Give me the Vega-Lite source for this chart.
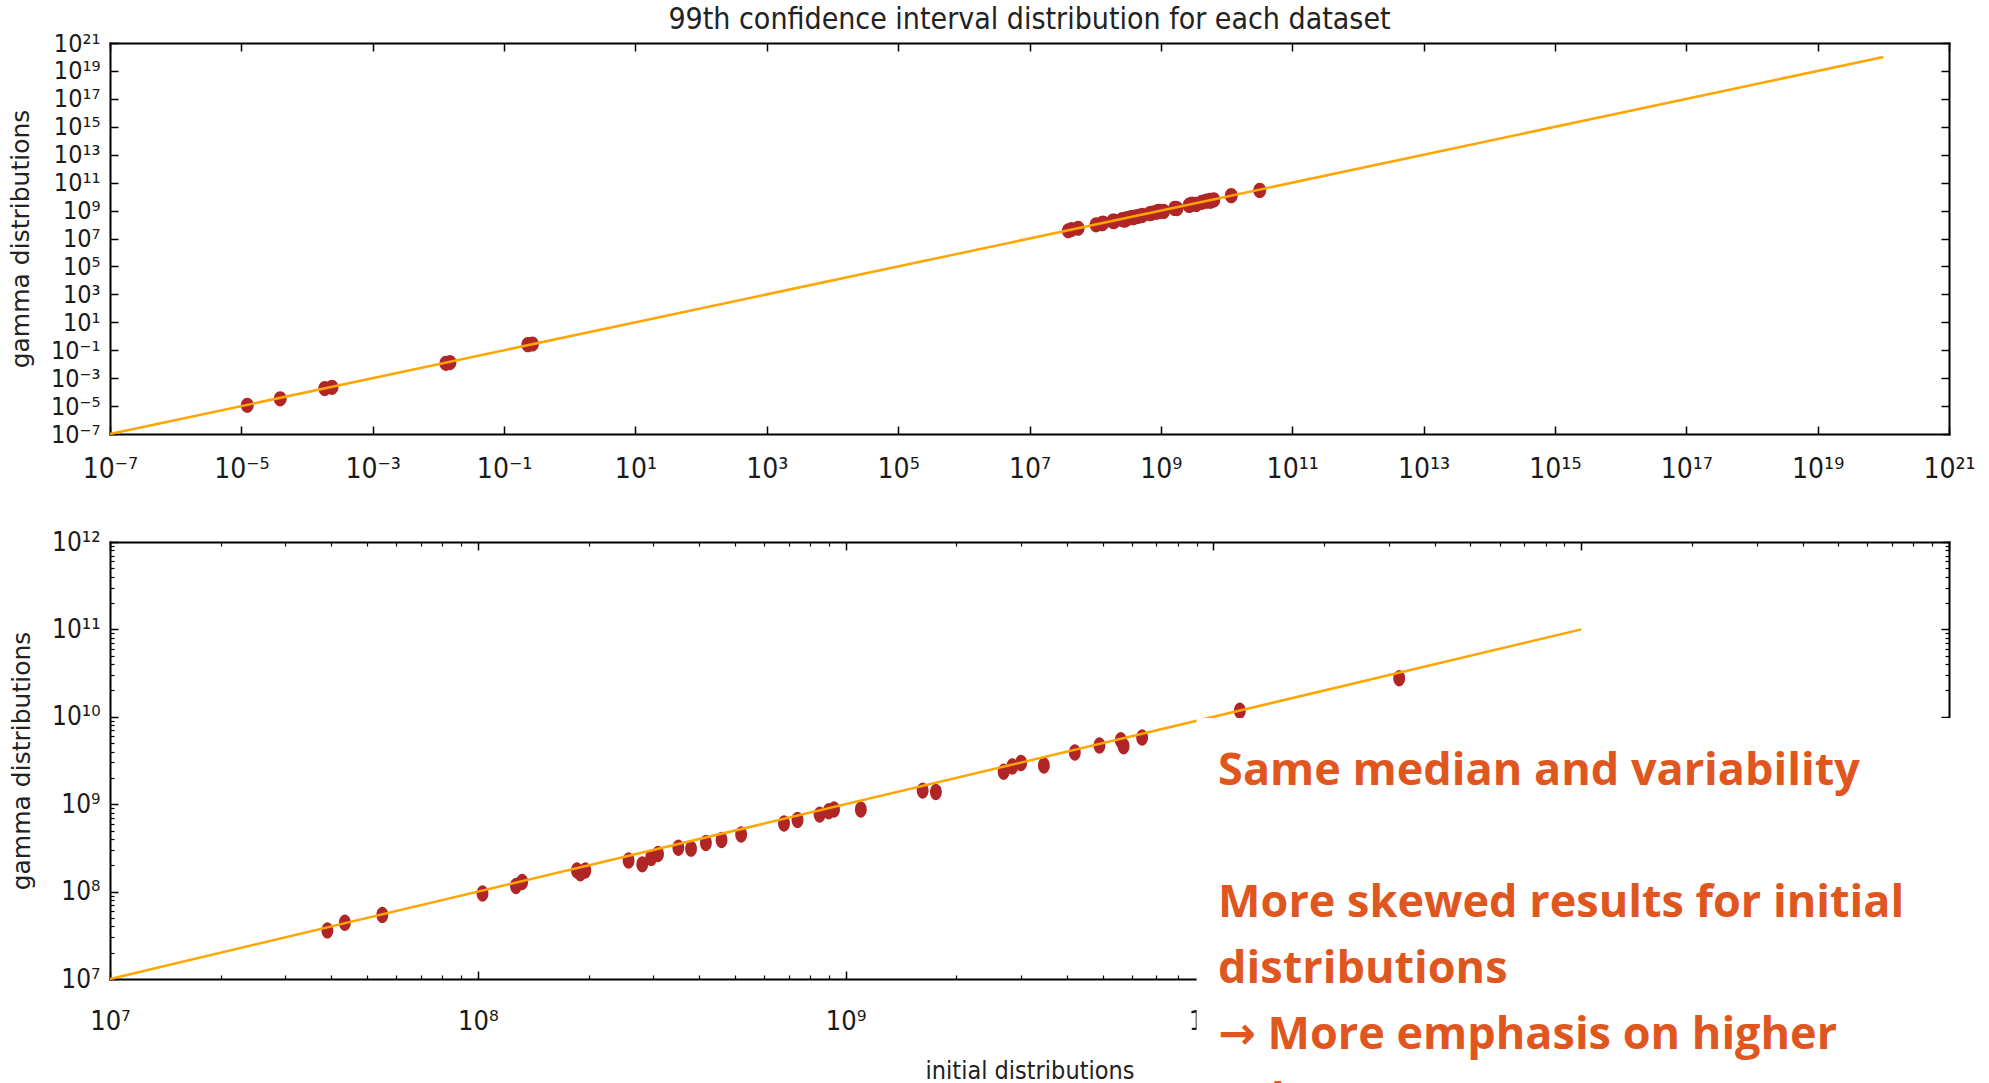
{
  "$schema": "https://vega.github.io/schema/vega-lite/v6.json",
  "background": "white",
  "padding": {"left": 8, "top": 5, "right": 0, "bottom": 0},
  "bounds": "flush",
  "spacing": 108,
  "title": {
    "text": "99th confidence interval distribution for each dataset",
    "font": "DejaVu Sans Condensed, DejaVu Sans, sans-serif",
    "fontSize": 30,
    "fontWeight": "normal",
    "color": "#222222",
    "anchor": "middle",
    "frame": "group",
    "baseline": "alphabetic",
    "offset": -28
  },
  "config": {
    "view": {"stroke": null},
    "axis": {
      "grid": false,
      "domain": false,
      "tickColor": "black",
      "tickWidth": 1.5,
      "labelColor": "#1a1a1a",
      "labelFont": "DejaVu Sans Condensed, DejaVu Sans, sans-serif",
      "labelFlush": false,
      "labelOverlap": false,
      "labelBound": false,
      "titleColor": "#222222",
      "titleFontWeight": "normal"
    }
  },
  "datasets": {
    "cluster": [
      {"initial": 3.9e7, "gamma": 3.6e7},
      {"initial": 4.35e7, "gamma": 4.4e7},
      {"initial": 5.5e7, "gamma": 5.4e7},
      {"initial": 1.03e8, "gamma": 9.5e7},
      {"initial": 1.27e8, "gamma": 1.16e8},
      {"initial": 1.32e8, "gamma": 1.29e8},
      {"initial": 1.86e8, "gamma": 1.74e8},
      {"initial": 1.96e8, "gamma": 1.74e8},
      {"initial": 1.9e8, "gamma": 1.62e8},
      {"initial": 2.57e8, "gamma": 2.27e8},
      {"initial": 2.8e8, "gamma": 2.05e8},
      {"initial": 2.96e8, "gamma": 2.43e8},
      {"initial": 3.09e8, "gamma": 2.69e8},
      {"initial": 3.51e8, "gamma": 3.17e8},
      {"initial": 3.8e8, "gamma": 3.1e8},
      {"initial": 4.17e8, "gamma": 3.6e8},
      {"initial": 4.6e8, "gamma": 3.9e8},
      {"initial": 5.2e8, "gamma": 4.5e8},
      {"initial": 6.8e8, "gamma": 6.0e8},
      {"initial": 7.4e8, "gamma": 6.6e8},
      {"initial": 8.5e8, "gamma": 7.6e8},
      {"initial": 9.0e8, "gamma": 8.3e8},
      {"initial": 9.3e8, "gamma": 8.7e8},
      {"initial": 1.1e9, "gamma": 8.7e8},
      {"initial": 1.62e9, "gamma": 1.43e9},
      {"initial": 1.76e9, "gamma": 1.38e9},
      {"initial": 2.69e9, "gamma": 2.35e9},
      {"initial": 2.84e9, "gamma": 2.7e9},
      {"initial": 3.0e9, "gamma": 2.96e9},
      {"initial": 3.46e9, "gamma": 2.77e9},
      {"initial": 4.2e9, "gamma": 3.9e9},
      {"initial": 4.9e9, "gamma": 4.7e9},
      {"initial": 5.6e9, "gamma": 5.4e9},
      {"initial": 5.7e9, "gamma": 4.6e9},
      {"initial": 6.4e9, "gamma": 5.8e9},
      {"initial": 1.18e10, "gamma": 1.17e10},
      {"initial": 3.2e10, "gamma": 2.76e10}
    ],
    "small": [
      {"initial": 1.23e-5, "gamma": 1.15e-5},
      {"initial": 3.9e-5, "gamma": 3.3e-5},
      {"initial": 1.86e-4, "gamma": 1.8e-4},
      {"initial": 2.4e-4, "gamma": 2.2e-4},
      {"initial": 1.3e-2, "gamma": 1.15e-2},
      {"initial": 1.5e-2, "gamma": 1.3e-2},
      {"initial": 0.23, "gamma": 0.25},
      {"initial": 0.27, "gamma": 0.28}
    ],
    "line_top": [
      {"initial": 1e-7, "gamma": 1e-7},
      {"initial": 1e20, "gamma": 1e20}
    ],
    "line_bottom": [
      {"initial": 1e7, "gamma": 1e7},
      {"initial": 1e11, "gamma": 1e11}
    ],
    "box": [
      {"x0": 9.0e9, "x1": 1.26e12, "y0": 9.7e9, "y1": 6.8e5}
    ],
    "note": [
      {"initial": 1.03e10, "gamma": 1.66e9, "note": "Same median and variability"},
      {"initial": 1.03e10, "gamma": 5.12e7, "note": "More skewed results for initial\ndistributions\n→ More emphasis on higher\nvalues"}
    ]
  },
  "vconcat": [
    {
      "width": 1839,
      "height": 391,
      "layer": [
        {
          "data": {"name": "cluster"},
          "mark": {"type": "point", "filled": true, "shape": "M0,-1 A0.85,1 0 1,1 0,1 A0.85,1 0 1,1 0,-1 Z", "size": 230, "color": "#b02525", "opacity": 1},
          "encoding": {
            "x": {"field": "initial", "type": "quantitative",
              "scale": {"type": "log", "domain": [1e-7, 1e21], "nice": false},
              "axis": {"orient": "bottom", "title": null, "values": [1e-7, 1e-5, 1e-3, 0.1, 10, 1000, 1e5, 1e7, 1e9, 1e11, 1e13, 1e15, 1e17, 1e19, 1e21],
                "domain": true, "domainColor": "black", "domainWidth": 2, "domainCap": "square",
                "tickSize": -8, "labelPadding": 29, "labelFontSize": 28,
                "labelExpr": "'10' + replace(replace(replace(replace(replace(replace(replace(replace(replace(replace(replace('' + round(log(datum.value) / LN10), '-', '⁻'), regexp('0', 'g'), '⁰'), regexp('1', 'g'), '¹'), regexp('2', 'g'), '²'), regexp('3', 'g'), '³'), regexp('4', 'g'), '⁴'), regexp('5', 'g'), '⁵'), regexp('6', 'g'), '⁶'), regexp('7', 'g'), '⁷'), regexp('8', 'g'), '⁸'), regexp('9', 'g'), '⁹')"}},
            "y": {"field": "gamma", "type": "quantitative",
              "scale": {"type": "log", "domain": [1e-7, 1e21], "nice": false},
              "axis": {"orient": "left", "title": "gamma distributions", "titleFont": "DejaVu Sans", "titleFontSize": 25, "titlePadding": 17,
                "values": [1e-7, 1e-5, 1e-3, 0.1, 10, 1000, 1e5, 1e7, 1e9, 1e11, 1e13, 1e15, 1e17, 1e19, 1e21],
                "domain": true, "domainColor": "black", "domainWidth": 2, "domainCap": "square",
                "tickSize": -8, "labelPadding": 18, "labelFontSize": 25,
                "labelExpr": "'10' + replace(replace(replace(replace(replace(replace(replace(replace(replace(replace(replace('' + round(log(datum.value) / LN10), '-', '⁻'), regexp('0', 'g'), '⁰'), regexp('1', 'g'), '¹'), regexp('2', 'g'), '²'), regexp('3', 'g'), '³'), regexp('4', 'g'), '⁴'), regexp('5', 'g'), '⁵'), regexp('6', 'g'), '⁶'), regexp('7', 'g'), '⁷'), regexp('8', 'g'), '⁸'), regexp('9', 'g'), '⁹')"}}
          }
        },
        {
          "data": {"name": "small"},
          "mark": {"type": "point", "filled": true, "shape": "M0,-1 A0.85,1 0 1,1 0,1 A0.85,1 0 1,1 0,-1 Z", "size": 230, "color": "#b02525", "opacity": 1},
          "encoding": {
            "x": {"field": "initial", "type": "quantitative", "axis": null},
            "y": {"field": "gamma", "type": "quantitative", "axis": null}
          }
        },
        {
          "data": {"name": "line_top"},
          "mark": {"type": "line", "color": "#FFA500", "strokeWidth": 2.5},
          "encoding": {
            "x": {"field": "initial", "type": "quantitative",
              "axis": {"orient": "top", "title": null, "labels": false, "values": [1e-7, 1e-5, 1e-3, 0.1, 10, 1000, 1e5, 1e7, 1e9, 1e11, 1e13, 1e15, 1e17, 1e19, 1e21],
                "domain": true, "domainColor": "black", "domainWidth": 2, "domainCap": "square", "tickSize": -8}},
            "y": {"field": "gamma", "type": "quantitative",
              "axis": {"orient": "right", "title": null, "labels": false, "values": [1e-7, 1e-5, 1e-3, 0.1, 10, 1000, 1e5, 1e7, 1e9, 1e11, 1e13, 1e15, 1e17, 1e19, 1e21],
                "domain": true, "domainColor": "black", "domainWidth": 2, "domainCap": "square", "tickSize": -8}}
          }
        }
      ],
      "resolve": {"axis": {"x": "independent", "y": "independent"}}
    },
    {
      "width": 1839,
      "height": 437,
      "layer": [
        {
          "data": {"name": "cluster"},
          "mark": {"type": "point", "filled": true, "shape": "M0,-1 A0.72,1 0 1,1 0,1 A0.72,1 0 1,1 0,-1 Z", "size": 270, "color": "#b02525", "opacity": 1},
          "encoding": {
            "x": {"field": "initial", "type": "quantitative",
              "scale": {"type": "log", "domain": [1e7, 1e12], "nice": false},
              "axis": {"orient": "bottom", "title": "initial distributions", "titleFont": "DejaVu Sans Condensed, DejaVu Sans, sans-serif", "titleFontSize": 25, "titlePadding": 24,
                "values": [1e7, 1e8, 1e9, 1e10, 1e11, 1e12],
                "domain": true, "domainColor": "black", "domainWidth": 2, "domainCap": "square",
                "tickSize": -8, "labelPadding": 37, "labelFontSize": 27,
                "labelExpr": "'10' + replace(replace(replace(replace(replace(replace(replace(replace(replace(replace(replace('' + round(log(datum.value) / LN10), '-', '⁻'), regexp('0', 'g'), '⁰'), regexp('1', 'g'), '¹'), regexp('2', 'g'), '²'), regexp('3', 'g'), '³'), regexp('4', 'g'), '⁴'), regexp('5', 'g'), '⁵'), regexp('6', 'g'), '⁶'), regexp('7', 'g'), '⁷'), regexp('8', 'g'), '⁸'), regexp('9', 'g'), '⁹')"}},
            "y": {"field": "gamma", "type": "quantitative",
              "scale": {"type": "log", "domain": [1e7, 1e12], "nice": false},
              "axis": {"orient": "left", "title": "gamma distributions", "titleFont": "DejaVu Sans", "titleFontSize": 25, "titlePadding": 17,
                "values": [1e7, 1e8, 1e9, 1e10, 1e11, 1e12],
                "domain": true, "domainColor": "black", "domainWidth": 2, "domainCap": "square",
                "tickSize": -8, "labelPadding": 18, "labelFontSize": 26,
                "labelExpr": "'10' + replace(replace(replace(replace(replace(replace(replace(replace(replace(replace(replace('' + round(log(datum.value) / LN10), '-', '⁻'), regexp('0', 'g'), '⁰'), regexp('1', 'g'), '¹'), regexp('2', 'g'), '²'), regexp('3', 'g'), '³'), regexp('4', 'g'), '⁴'), regexp('5', 'g'), '⁵'), regexp('6', 'g'), '⁶'), regexp('7', 'g'), '⁷'), regexp('8', 'g'), '⁸'), regexp('9', 'g'), '⁹')"}}
          }
        },
        {
          "data": {"name": "line_bottom"},
          "mark": {"type": "line", "color": "#FFA500", "strokeWidth": 2.5},
          "encoding": {
            "x": {"field": "initial", "type": "quantitative",
              "axis": {"orient": "bottom", "title": null, "labels": false, "tickSize": -4, "tickWidth": 1.2,
                "values": [2e7, 3e7, 4e7, 5e7, 6e7, 7e7, 8e7, 9e7, 2e8, 3e8, 4e8, 5e8, 6e8, 7e8, 8e8, 9e8, 2e9, 3e9, 4e9, 5e9, 6e9, 7e9, 8e9, 9e9, 2e10, 3e10, 4e10, 5e10, 6e10, 7e10, 8e10, 9e10, 2e11, 3e11, 4e11, 5e11, 6e11, 7e11, 8e11, 9e11]}},
            "y": {"field": "gamma", "type": "quantitative",
              "axis": {"orient": "left", "title": null, "labels": false, "tickSize": -4, "tickWidth": 1.2,
                "values": [2e7, 3e7, 4e7, 5e7, 6e7, 7e7, 8e7, 9e7, 2e8, 3e8, 4e8, 5e8, 6e8, 7e8, 8e8, 9e8, 2e9, 3e9, 4e9, 5e9, 6e9, 7e9, 8e9, 9e9, 2e10, 3e10, 4e10, 5e10, 6e10, 7e10, 8e10, 9e10, 2e11, 3e11, 4e11, 5e11, 6e11, 7e11, 8e11, 9e11]}}
          }
        },
        {
          "data": {"name": "box"},
          "mark": {"type": "rect", "color": "white", "clip": false},
          "encoding": {
            "x": {"field": "x0", "type": "quantitative",
              "axis": {"orient": "top", "title": null, "labels": false, "values": [1e7, 1e8, 1e9, 1e10, 1e11, 1e12],
                "domain": true, "domainColor": "black", "domainWidth": 2, "domainCap": "square", "tickSize": -8}},
            "x2": {"field": "x1"},
            "y": {"field": "y0", "type": "quantitative",
              "axis": {"orient": "right", "title": null, "labels": false, "values": [1e7, 1e8, 1e9, 1e10, 1e11, 1e12],
                "domain": true, "domainColor": "black", "domainWidth": 2, "domainCap": "square", "tickSize": -8}},
            "y2": {"field": "y1"}
          }
        },
        {
          "data": {"name": "note"},
          "mark": {"type": "text", "align": "left", "baseline": "alphabetic", "font": "Open Sans, DejaVu Sans, sans-serif", "fontWeight": "bold", "fontSize": 45, "color": "#E0561F", "lineBreak": "\n", "lineHeight": 66, "clip": false},
          "encoding": {
            "x": {"field": "initial", "type": "quantitative",
              "axis": {"orient": "top", "title": null, "labels": false, "tickSize": -4, "tickWidth": 1.2,
                "values": [2e7, 3e7, 4e7, 5e7, 6e7, 7e7, 8e7, 9e7, 2e8, 3e8, 4e8, 5e8, 6e8, 7e8, 8e8, 9e8, 2e9, 3e9, 4e9, 5e9, 6e9, 7e9, 8e9, 9e9, 2e10, 3e10, 4e10, 5e10, 6e10, 7e10, 8e10, 9e10, 2e11, 3e11, 4e11, 5e11, 6e11, 7e11, 8e11, 9e11]}},
            "y": {"field": "gamma", "type": "quantitative",
              "axis": {"orient": "right", "title": null, "labels": false, "tickSize": -4, "tickWidth": 1.2,
                "values": [2e7, 3e7, 4e7, 5e7, 6e7, 7e7, 8e7, 9e7, 2e8, 3e8, 4e8, 5e8, 6e8, 7e8, 8e8, 9e8, 2e9, 3e9, 4e9, 5e9, 6e9, 7e9, 8e9, 9e9, 2e10, 3e10, 4e10, 5e10, 6e10, 7e10, 8e10, 9e10, 2e11, 3e11, 4e11, 5e11, 6e11, 7e11, 8e11, 9e11]}},
            "text": {"field": "note", "type": "nominal"}
          }
        }
      ],
      "resolve": {"axis": {"x": "independent", "y": "independent"}}
    }
  ]
}
